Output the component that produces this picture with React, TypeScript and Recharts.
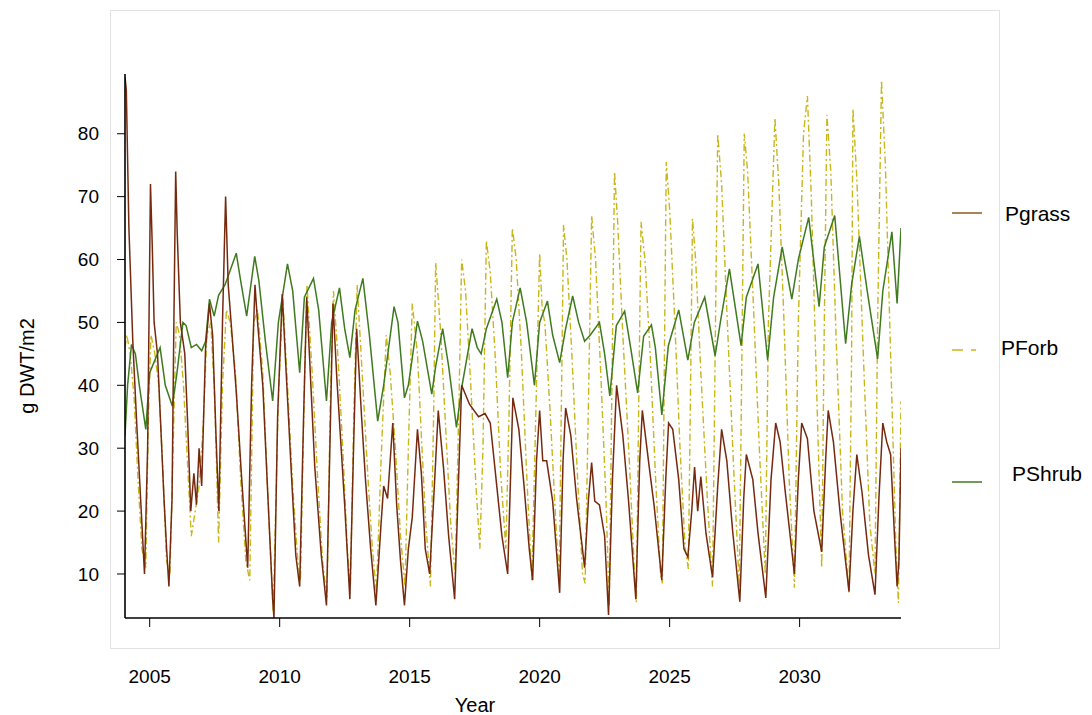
import { LineChart, Line, XAxis, YAxis } from "recharts";

// [year, g DWT/m2]
const pgrass: [number, number][] = [
  [2004.05, 89], [2004.1, 87], [2004.2, 65], [2004.35, 47], [2004.5, 34], [2004.65, 22], [2004.8, 10],
  [2004.92, 30], [2005.03, 72], [2005.1, 62], [2005.17, 50], [2005.3, 45], [2005.42, 34], [2005.55, 22],
  [2005.65, 14], [2005.74, 8], [2005.86, 22], [2005.93, 50], [2006.0, 74], [2006.06, 64], [2006.18, 50],
  [2006.35, 45], [2006.46, 34], [2006.58, 20], [2006.7, 26], [2006.8, 21], [2006.9, 30], [2007.0, 24],
  [2007.15, 46], [2007.3, 53], [2007.42, 48], [2007.55, 32], [2007.66, 20], [2007.8, 50], [2007.92, 70],
  [2008.02, 56], [2008.15, 49], [2008.33, 39], [2008.54, 25], [2008.77, 11], [2008.92, 40], [2009.05, 56],
  [2009.15, 50], [2009.35, 40], [2009.55, 22], [2009.73, 6], [2009.78, 3], [2009.92, 35], [2010.1, 54.5],
  [2010.25, 42], [2010.45, 26], [2010.62, 13], [2010.77, 8], [2010.92, 35], [2011.04, 54], [2011.2, 40],
  [2011.35, 27], [2011.6, 13], [2011.8, 5], [2011.93, 30], [2012.05, 53], [2012.2, 41], [2012.35, 31],
  [2012.5, 21], [2012.7, 6], [2012.83, 28], [2012.96, 49], [2013.15, 35], [2013.3, 25], [2013.5, 14],
  [2013.7, 5], [2013.9, 18], [2014.0, 24], [2014.15, 22], [2014.35, 34], [2014.5, 21], [2014.65, 12],
  [2014.8, 5], [2014.95, 14], [2015.1, 19], [2015.3, 33], [2015.45, 26], [2015.6, 14], [2015.77, 10],
  [2015.95, 24], [2016.1, 36], [2016.3, 27], [2016.5, 16], [2016.73, 6], [2016.88, 25], [2017.0, 40],
  [2017.3, 37], [2017.65, 35], [2017.9, 35.5], [2018.1, 34], [2018.35, 24], [2018.55, 16], [2018.77, 10],
  [2018.9, 28], [2018.97, 38], [2019.2, 33], [2019.4, 24], [2019.6, 14], [2019.73, 9], [2019.88, 28],
  [2020.0, 36], [2020.12, 28], [2020.27, 28], [2020.5, 21.6], [2020.77, 7], [2020.9, 28], [2021.0, 36.4],
  [2021.2, 32], [2021.42, 22], [2021.73, 11], [2021.88, 22], [2022.0, 27.7], [2022.12, 21.6], [2022.3, 21],
  [2022.5, 16], [2022.65, 3.5], [2022.8, 25], [2022.96, 40], [2023.2, 32], [2023.42, 21.6], [2023.7, 6],
  [2023.85, 28], [2023.95, 36], [2024.2, 27.5], [2024.4, 21], [2024.7, 9], [2024.85, 25], [2024.96, 34],
  [2025.12, 33], [2025.35, 25], [2025.55, 14], [2025.7, 12.7], [2025.85, 20], [2025.96, 27], [2026.08, 20],
  [2026.2, 25.5], [2026.4, 16.4], [2026.65, 9.5], [2026.85, 24], [2027.0, 33], [2027.2, 28], [2027.42, 17],
  [2027.7, 5.6], [2027.85, 22], [2027.95, 29], [2028.2, 25], [2028.4, 16.5], [2028.7, 6.2], [2028.9, 25],
  [2029.08, 34], [2029.25, 31], [2029.45, 23], [2029.8, 10], [2029.95, 25], [2030.08, 34], [2030.3, 31.5],
  [2030.55, 20], [2030.85, 13.5], [2031.0, 28], [2031.1, 36], [2031.3, 31], [2031.55, 20], [2031.9, 7.2],
  [2032.05, 20], [2032.2, 29], [2032.4, 23], [2032.65, 13], [2032.9, 6.7], [2033.05, 22], [2033.2, 34],
  [2033.35, 31], [2033.5, 29], [2033.65, 16], [2033.75, 8], [2033.82, 12], [2033.9, 30],
];

const pforb: [number, number][] = [
  [2004.05, 46], [2004.12, 48], [2004.25, 45], [2004.4, 38], [2004.55, 25], [2004.7, 14], [2004.85, 11],
  [2004.95, 35], [2005.05, 48], [2005.2, 45], [2005.35, 40], [2005.5, 27], [2005.65, 12], [2005.78, 10],
  [2005.9, 30], [2006.02, 50], [2006.15, 48], [2006.3, 40], [2006.45, 28], [2006.6, 16], [2006.75, 20],
  [2006.9, 24], [2007.05, 33], [2007.2, 48], [2007.35, 50], [2007.5, 38], [2007.65, 15], [2007.8, 40],
  [2007.95, 52], [2008.1, 50], [2008.3, 42], [2008.5, 25], [2008.7, 12], [2008.85, 9], [2009.0, 50],
  [2009.15, 52], [2009.35, 42], [2009.55, 22], [2009.75, 4], [2009.95, 38], [2010.12, 54], [2010.3, 40],
  [2010.5, 24], [2010.7, 12], [2010.8, 9], [2010.95, 40], [2011.05, 56], [2011.25, 42], [2011.45, 26],
  [2011.65, 12], [2011.82, 6], [2011.95, 38], [2012.07, 55], [2012.25, 44], [2012.45, 28], [2012.6, 14],
  [2012.72, 8], [2012.85, 35], [2012.98, 56], [2013.2, 40], [2013.4, 25], [2013.55, 15], [2013.72, 7],
  [2013.9, 28], [2014.1, 48], [2014.25, 42], [2014.45, 30], [2014.65, 16], [2014.82, 8], [2014.95, 30],
  [2015.1, 53], [2015.3, 45], [2015.45, 32], [2015.62, 18], [2015.8, 8], [2015.92, 35], [2016.0, 59.5],
  [2016.2, 48], [2016.4, 32], [2016.58, 18], [2016.75, 10], [2016.9, 38], [2017.0, 60], [2017.15, 55],
  [2017.35, 40], [2017.55, 24], [2017.7, 14], [2017.82, 30], [2017.95, 63], [2018.1, 58], [2018.3, 44],
  [2018.5, 26], [2018.7, 14], [2018.82, 35], [2018.95, 65], [2019.1, 60], [2019.3, 45], [2019.5, 26],
  [2019.7, 9], [2019.85, 35], [2020.0, 61], [2020.1, 52], [2020.2, 50], [2020.4, 36], [2020.6, 20],
  [2020.75, 9], [2020.83, 35], [2020.92, 65.5], [2021.05, 60], [2021.25, 44], [2021.45, 26], [2021.65, 10],
  [2021.75, 8.5], [2021.88, 38], [2022.0, 67], [2022.15, 60], [2022.35, 42], [2022.55, 22], [2022.68, 5],
  [2022.78, 40], [2022.88, 74], [2023.0, 66], [2023.2, 48], [2023.45, 28], [2023.65, 10], [2023.72, 5.5],
  [2023.82, 40], [2023.9, 66], [2024.05, 60], [2024.25, 45], [2024.45, 26], [2024.65, 10], [2024.72, 8.5],
  [2024.8, 45], [2024.87, 75.5], [2025.0, 68], [2025.2, 50], [2025.4, 30], [2025.6, 14], [2025.72, 10.8],
  [2025.8, 38], [2025.88, 66.5], [2026.0, 60], [2026.2, 42], [2026.45, 22], [2026.65, 8], [2026.75, 45],
  [2026.85, 80], [2027.0, 72], [2027.2, 52], [2027.45, 28], [2027.68, 7.8], [2027.78, 45], [2027.87, 80],
  [2028.0, 74], [2028.2, 55], [2028.45, 30], [2028.68, 10], [2028.8, 50], [2029.05, 82.5], [2029.2, 72],
  [2029.4, 50], [2029.6, 25], [2029.8, 7.8], [2029.95, 50], [2030.15, 80], [2030.3, 86], [2030.45, 70],
  [2030.65, 40], [2030.85, 11], [2030.95, 50], [2031.05, 83], [2031.2, 74], [2031.4, 48], [2031.65, 20],
  [2031.9, 7], [2032.0, 45], [2032.05, 84], [2032.2, 73], [2032.45, 45], [2032.7, 18], [2032.9, 10],
  [2033.0, 50], [2033.15, 88.5], [2033.3, 75], [2033.5, 45], [2033.7, 15], [2033.8, 5.4], [2033.9, 37.5],
];

const pshrub: [number, number][] = [
  [2004.05, 32], [2004.15, 40], [2004.3, 46.5], [2004.45, 45], [2004.6, 40], [2004.85, 33], [2005.0, 42],
  [2005.2, 44], [2005.4, 46], [2005.6, 40], [2005.87, 36.7], [2006.05, 42], [2006.28, 50], [2006.4, 49.5],
  [2006.6, 46], [2006.8, 46.5], [2007.0, 45.5], [2007.15, 47], [2007.3, 53.7], [2007.48, 51], [2007.65, 54.3],
  [2007.9, 56], [2008.33, 61], [2008.5, 56.6], [2008.73, 51], [2009.04, 60.5], [2009.2, 56.6], [2009.45, 47],
  [2009.73, 37.5], [2009.95, 50], [2010.3, 59.3], [2010.5, 55], [2010.77, 42], [2010.95, 54], [2011.3, 57],
  [2011.5, 52], [2011.8, 37.5], [2012.0, 50], [2012.3, 55.5], [2012.5, 49], [2012.7, 44.4], [2012.9, 52],
  [2013.2, 57], [2013.45, 48], [2013.77, 34.3], [2014.0, 40], [2014.4, 52.5], [2014.55, 50], [2014.8, 38],
  [2014.95, 40], [2015.3, 50.2], [2015.5, 47], [2015.85, 38.6], [2016.0, 43], [2016.27, 49], [2016.5, 43],
  [2016.8, 33.3], [2017.0, 39.6], [2017.4, 49], [2017.6, 46], [2017.75, 45], [2017.95, 49], [2018.35, 53.7],
  [2018.55, 50], [2018.77, 41.2], [2018.95, 50], [2019.25, 55.5], [2019.5, 50], [2019.8, 40], [2020.0, 50],
  [2020.3, 53.4], [2020.5, 48], [2020.77, 43.6], [2021.0, 49], [2021.27, 54.2], [2021.5, 50], [2021.73, 47],
  [2021.95, 48], [2022.3, 50], [2022.5, 45], [2022.7, 38.3], [2022.95, 49.5], [2023.27, 51.8], [2023.5, 46],
  [2023.77, 38.8], [2024.0, 47.8], [2024.3, 49.6], [2024.45, 46], [2024.7, 35.3], [2024.95, 46.3],
  [2025.35, 52], [2025.7, 44], [2025.95, 50], [2026.35, 54], [2026.75, 44.7], [2026.95, 50], [2027.3, 58.5],
  [2027.75, 46.3], [2027.95, 54], [2028.4, 59.3], [2028.77, 44], [2029.0, 54], [2029.33, 62], [2029.7, 53.7],
  [2029.95, 60], [2030.35, 66.7], [2030.75, 52.5], [2030.95, 62], [2031.35, 67], [2031.77, 46.6],
  [2032.0, 56], [2032.3, 63.7], [2032.6, 55], [2033.0, 44.2], [2033.2, 55], [2033.55, 64.4], [2033.75, 53],
  [2033.9, 65],
];

const yearTicks = [2005, 2010, 2015, 2020, 2025, 2030];
const valueTicks = [10, 20, 30, 40, 50, 60, 70, 80];
const seriesNames = ["Pgrass", "PForb", "PShrub"];

const colors = { grass: "#752a10", forb: "#c9b61c", shrub: "#3f7a1e" };
const font = "'Liberation Sans', Arial, sans-serif";

const toPoints = (rows: [number, number][]) => rows.map(([t, v]) => ({ t, v }));

export default function App() {
  return (
    <div style={{ position: "absolute", left: 0, top: 0, width: 1092, height: 715, background: "#fff", fontFamily: font }}>
      <LineChart width={1092} height={715} margin={{ top: 74, right: 191, bottom: 37, left: 0 }}>
        <XAxis
          type="number"
          dataKey="t"
          domain={[2004.05, 2033.9]}
          ticks={yearTicks}
          allowDataOverflow
          height={60}
          tickSize={9}
          tickMargin={43}
          axisLine={{ stroke: "#000", strokeWidth: 1.6 }}
          tickLine={{ stroke: "#000" }}
          tick={{ fill: "#000", fontSize: 19 }}
        />
        <YAxis
          type="number"
          domain={[3, 89.5]}
          ticks={valueTicks}
          allowDataOverflow
          width={125}
          tickSize={8}
          tickMargin={18}
          axisLine={{ stroke: "#000", strokeWidth: 1.6 }}
          tickLine={{ stroke: "#000" }}
          tick={{ fill: "#000", fontSize: 19 }}
        />
        <Line data={toPoints(pforb)} dataKey="v" type="linear" stroke={colors.forb} strokeWidth={1.4}
          strokeDasharray="7 3 2 3" dot={false} isAnimationActive={false} />
        <Line data={toPoints(pshrub)} dataKey="v" type="linear" stroke={colors.shrub} strokeWidth={1.5}
          dot={false} isAnimationActive={false} />
        <Line data={toPoints(pgrass)} dataKey="v" type="linear" stroke={colors.grass} strokeWidth={1.5}
          dot={false} isAnimationActive={false} />
      </LineChart>

      <svg width={1092} height={715} style={{ position: "absolute", left: 0, top: 0, pointerEvents: "none" }}>
        <rect x={110.5} y={10.5} width={889} height={638} fill="none" stroke="#c4c4c4" strokeDasharray="1 1" />
        <text x={475} y={712} textAnchor="middle" fontSize={20} fill="#000">Year</text>
        <text x={34} y={366} textAnchor="middle" fontSize={20} fill="#000" transform="rotate(-90 34 366)">g DWT/m2</text>

        <line x1={952} x2={982} y1={213} y2={213} stroke="#8a5a20" strokeWidth={1.5} />
        <text x={1005} y={221} fontSize={21} fill="#000">{seriesNames[0]}</text>

        <line x1={952} x2={982} y1={350} y2={350} stroke={colors.forb} strokeWidth={1.5} strokeDasharray="11 8 5 20" />
        <text x={1001} y={355} fontSize={21} fill="#000">{seriesNames[1]}</text>

        <line x1={952} x2={982} y1={482} y2={482} stroke={colors.shrub} strokeWidth={1.5} />
        <text x={1012} y={481} fontSize={21} fill="#000">{seriesNames[2]}</text>
      </svg>
    </div>
  );
}
